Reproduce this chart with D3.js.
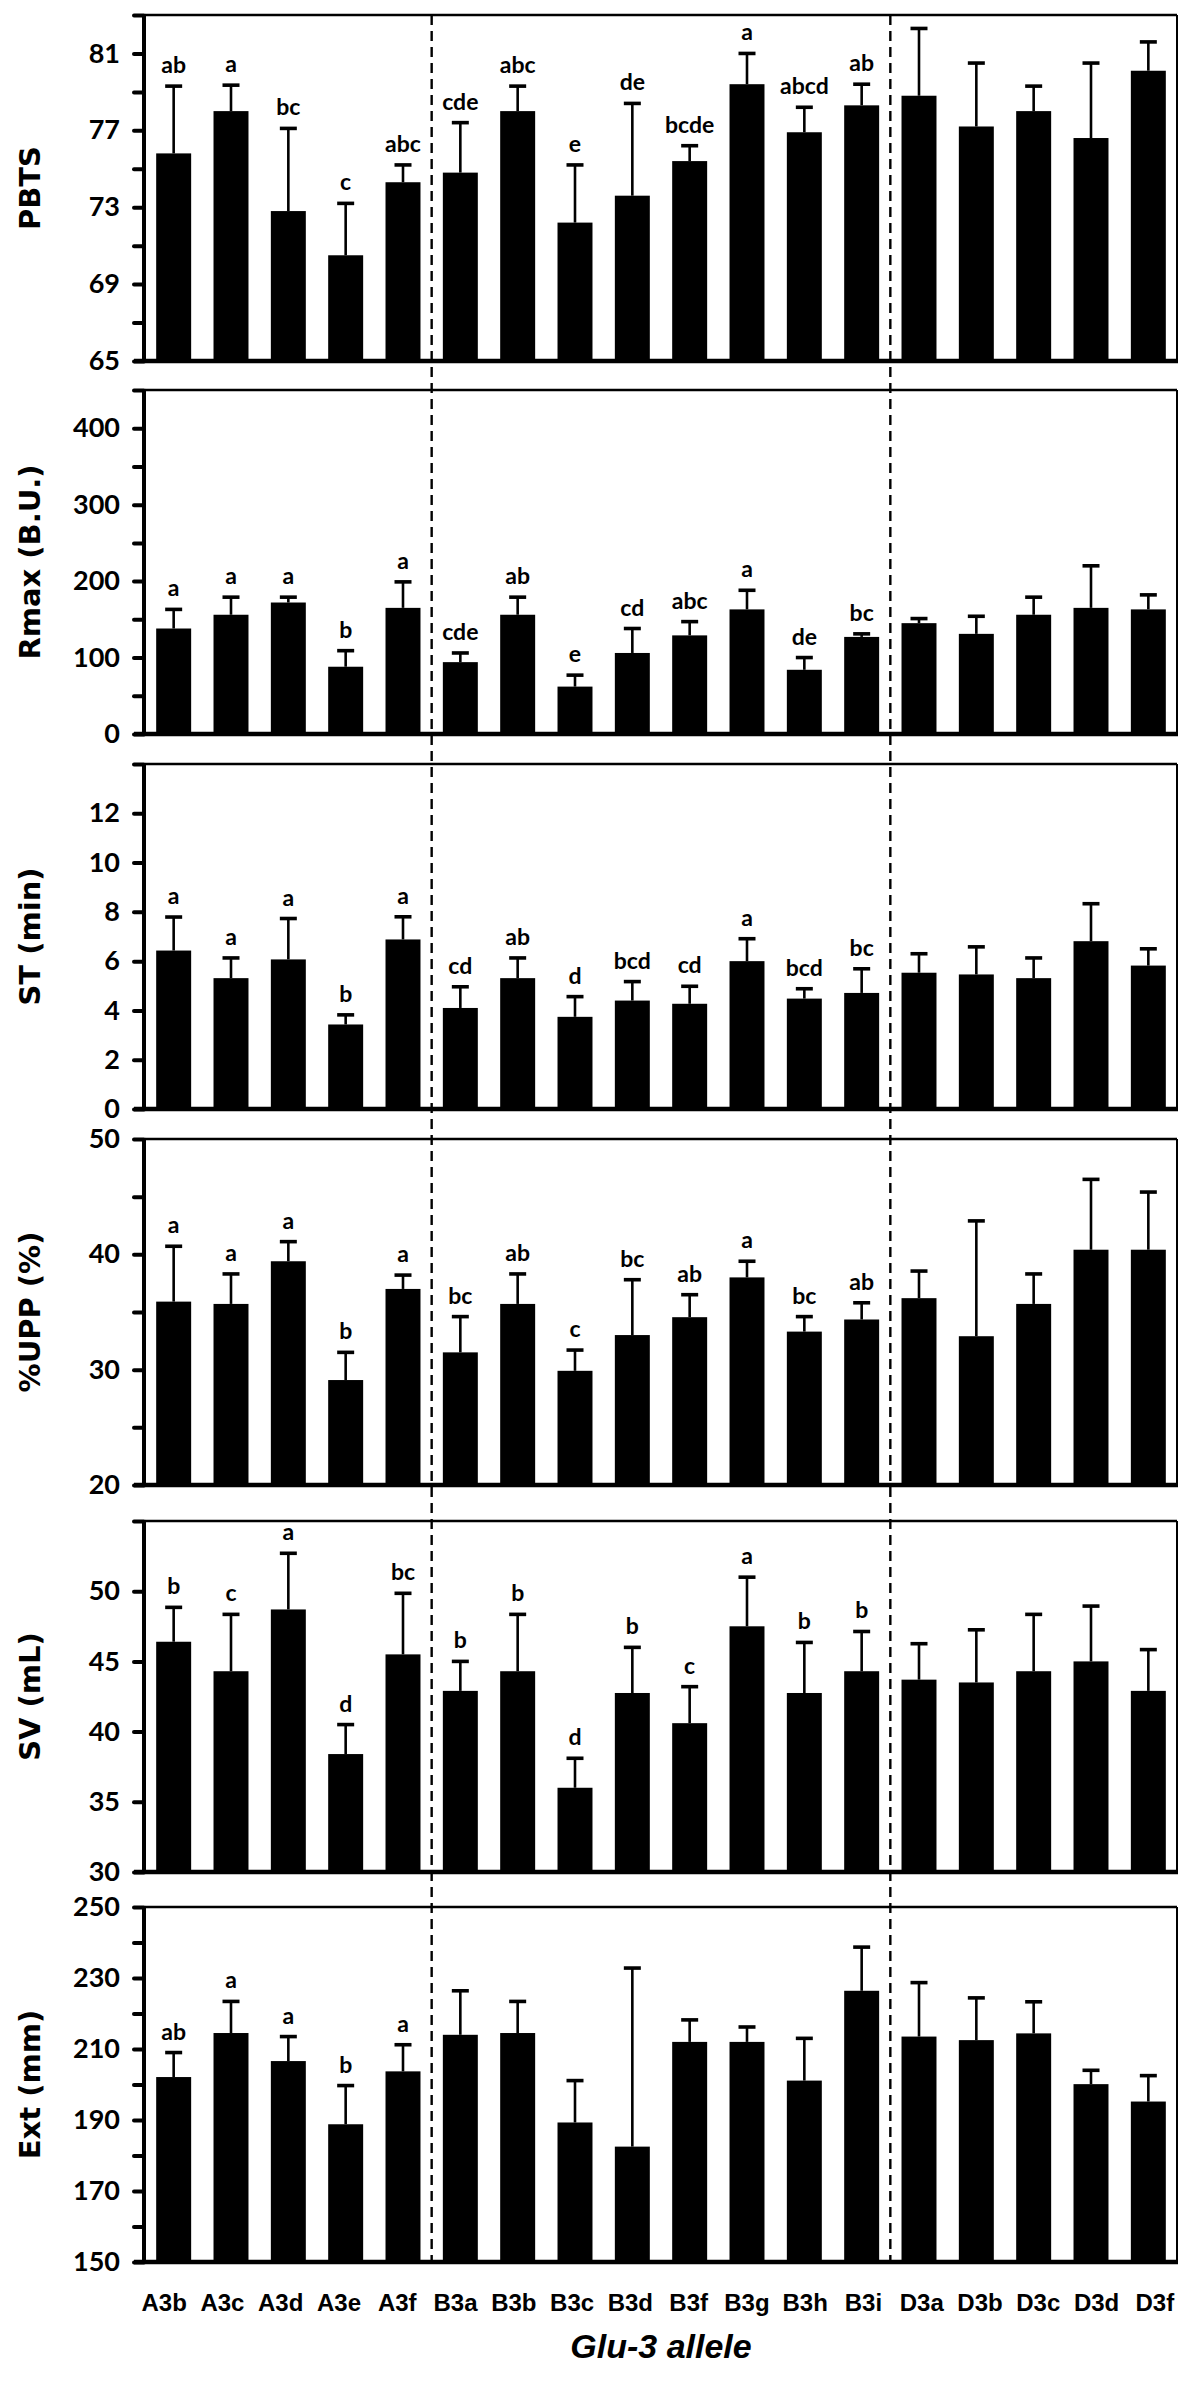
<!DOCTYPE html>
<html><head><meta charset="utf-8">
<script src="https://cdn.jsdelivr.net/npm/d3@7"></script>
<style>body{margin:0;background:#fff}</style>
</head><body><svg id="c" width="1200" height="2382"></svg>
<script>
const categories = ["A3b","A3c","A3d","A3e","A3f","B3a","B3b","B3c","B3d","B3f","B3g","B3h","B3i","D3a","D3b","D3c","D3d","D3f"];

const pbtsMean = [75.8, 78.0, 72.8, 70.5, 74.3, 74.8, 78.0, 72.2, 73.6, 75.4, 79.4, 76.9, 78.3, 78.8, 77.2, 78.0, 76.6, 80.1];
const pbtsSD   = [3.5, 1.35, 4.3, 2.7, 0.9, 2.6, 1.3, 3.0, 4.8, 0.8, 1.6, 1.3, 1.1, 3.5, 3.3, 1.3, 3.9, 1.5];
const pbtsLetters = ["ab","a","bc","c","abc","cde","abc","e","de","bcde","a","abcd","ab","","","","",""];
const pbtsTicks = [65, 69, 73, 77, 81];

const rmaxMean = [138, 156, 172, 88, 165, 94, 156, 62, 106, 129, 163, 84, 127, 145, 131, 156, 165, 163];
const rmaxSD   = [25, 23, 7, 21, 34, 12, 23, 15, 32, 18, 25, 16, 4, 6, 23, 23, 55, 19];
const rmaxLetters = ["a","a","a","b","a","cde","ab","e","cd","abc","a","de","bc","","","","",""];
const rmaxTicks = [0, 100, 200, 300, 400];

const stMean = [6.43, 5.31, 6.07, 3.43, 6.88, 4.10, 5.31, 3.74, 4.40, 4.27, 6.0, 4.48, 4.71, 5.53, 5.46, 5.31, 6.81, 5.82];
const stSD   = [1.36, 0.82, 1.66, 0.39, 0.92, 0.86, 0.82, 0.82, 0.77, 0.71, 0.91, 0.40, 0.98, 0.77, 1.12, 0.82, 1.52, 0.68];
const stLetters = ["a","a","a","b","a","cd","ab","d","bcd","cd","a","bcd","bc","","","","",""];
const stTicks = [0, 2, 4, 6, 8, 10, 12];

const uppMean = [35.9, 35.7, 39.4, 29.1, 37.0, 31.5, 35.7, 29.9, 33.0, 34.55, 38.0, 33.3, 34.35, 36.2, 32.9, 35.7, 40.4, 40.4];
const uppSD   = [4.8, 2.6, 1.7, 2.4, 1.2, 3.1, 2.6, 1.8, 4.8, 1.95, 1.4, 1.3, 1.45, 2.35, 10.0, 2.6, 6.1, 5.0];
const uppLetters = ["a","a","a","b","a","bc","ab","c","bc","ab","a","bc","ab","","","","",""];
const uppTicks = [20, 30, 40, 50];

const svMean = [46.4, 44.3, 48.7, 38.4, 45.5, 42.9, 44.3, 36.0, 42.75, 40.6, 47.5, 42.75, 44.3, 43.7, 43.5, 44.3, 45.0, 42.9];
const svSD   = [2.45, 4.05, 4.0, 2.1, 4.35, 2.1, 4.05, 2.1, 3.25, 2.6, 3.5, 3.6, 2.83, 2.56, 3.75, 4.05, 3.94, 2.94];
const svLetters = ["b","c","a","d","bc","b","b","d","b","c","a","b","b","","","","",""];
const svTicks = [30, 35, 40, 45, 50];

const extMean = [202.1, 214.5, 206.6, 188.8, 203.7, 214.0, 214.5, 189.3, 182.5, 212.0, 212.0, 201.1, 226.4, 213.5, 212.5, 214.4, 200.1, 195.2];
const extSD   = [6.9, 8.9, 6.9, 10.9, 7.5, 12.4, 8.9, 11.8, 50.3, 6.2, 4.2, 11.9, 12.3, 15.2, 11.9, 8.9, 3.9, 7.3];
const extLetters = ["ab","a","a","b","a","","","","","","","","","","","","",""];
const extTicks = [150, 170, 190, 210, 230, 250];

const xTitle = "Glu-3 allele";

const panels = [
  {title:"PBTS", mean:pbtsMean, sd:pbtsSD, letters:pbtsLetters, ticks:pbtsTicks, domain:[65,83], step:2, top:15, bottom:361},
  {title:"Rmax (B.U.)", mean:rmaxMean, sd:rmaxSD, letters:rmaxLetters, ticks:rmaxTicks, domain:[0,450], step:50, top:390, bottom:734},
  {title:"ST (min)", mean:stMean, sd:stSD, letters:stLetters, ticks:stTicks, domain:[0,14], step:2, top:764, bottom:1109},
  {title:"%UPP (%)", mean:uppMean, sd:uppSD, letters:uppLetters, ticks:uppTicks, domain:[20,50], step:5, top:1139, bottom:1485},
  {title:"SV (mL)", mean:svMean, sd:svSD, letters:svLetters, ticks:svTicks, domain:[30,55], step:5, top:1521, bottom:1872},
  {title:"Ext (mm)", mean:extMean, sd:extSD, letters:extLetters, ticks:extTicks, domain:[150,250], step:10, top:1907, bottom:2262}
];

const svg = d3.select("#c");
const L = 145, R = 1177;
const x = d3.scaleBand().domain(categories).range([L, R]).paddingInner(0.39).paddingOuter(0.195);
const bw = x.bandwidth();

panels.forEach(p => {
  const y = d3.scaleLinear().domain(p.domain).range([p.bottom, p.top]);
  const g = svg.append("g");
  const data = categories.map((c, i) => ({c, m: p.mean[i], s: p.sd[i], l: p.letters[i]}));

  g.selectAll("rect.bar").data(data).join("rect")
    .attr("x", d => x(d.c)).attr("width", bw)
    .attr("y", d => y(d.m)).attr("height", d => p.bottom - y(d.m))
    .attr("fill", "#000");

  g.selectAll("line.stem").data(data).join("line")
    .attr("x1", d => x(d.c) + bw/2).attr("x2", d => x(d.c) + bw/2)
    .attr("y1", d => y(d.m)).attr("y2", d => y(d.m + d.s))
    .attr("stroke", "#000").attr("stroke-width", 2.6);
  g.selectAll("line.cap").data(data).join("line")
    .attr("x1", d => x(d.c) + bw/2 - 8.5).attr("x2", d => x(d.c) + bw/2 + 8.5)
    .attr("y1", d => y(d.m + d.s)).attr("y2", d => y(d.m + d.s))
    .attr("stroke", "#000").attr("stroke-width", 3.6);

  g.selectAll("text.let").data(data.filter(d => d.l)).join("text")
    .attr("x", d => x(d.c) + bw/2).attr("y", d => y(d.m + d.s) - 13)
    .attr("text-anchor", "middle")
    .style("font-family", "Lato, 'Open Sans', sans-serif").style("font-weight", "bold").style("font-size", "23px")
    .text(d => d.l);

  const tv = d3.range(p.domain[0], p.domain[1] + p.step/2, p.step);
  const tickAxis = d3.axisLeft(y).tickValues(tv).tickSize(10).tickFormat("");
  const ta = g.append("g").attr("transform", `translate(${L - 1},0)`).call(tickAxis);
  ta.select(".domain").remove();
  ta.selectAll(".tick line").attr("stroke", "#000").attr("stroke-width", 4).attr("stroke-linecap", "round");

  const labAxis = d3.axisLeft(y).tickValues(p.ticks).tickSize(0).tickPadding(25).tickFormat(d3.format("d"));
  const la = g.append("g").attr("transform", `translate(${L},0)`).call(labAxis);
  la.select(".domain").remove();
  la.selectAll("text").attr("fill", "#000")
    .style("font-family", "Lato, 'Open Sans', sans-serif").style("font-weight", "bold").style("font-size", "27px");

  g.append("line").attr("x1", L).attr("x2", R).attr("y1", p.top).attr("y2", p.top).attr("stroke", "#000").attr("stroke-width", 2.5);
  g.append("line").attr("x1", R).attr("x2", R).attr("y1", p.top).attr("y2", p.bottom).attr("stroke", "#000").attr("stroke-width", 2);
  g.append("line").attr("x1", L - 1).attr("x2", L - 1).attr("y1", p.top - 1).attr("y2", p.bottom + 2).attr("stroke", "#000").attr("stroke-width", 4);
  g.append("line").attr("x1", L - 11).attr("x2", R + 1).attr("y1", p.bottom).attr("y2", p.bottom).attr("stroke", "#000").attr("stroke-width", 4.5);

  g.append("text")
    .attr("transform", `translate(40,${(p.top + p.bottom)/2}) rotate(-90)`)
    .attr("text-anchor", "middle")
    .style("font-family", "'DejaVu Sans', Verdana, sans-serif").style("font-weight", "bold").style("font-size", "29px")
    .text(p.title);
});

const seps = [["A3f","B3a"], ["B3i","D3a"]];
svg.selectAll("line.sep").data(seps).join("line")
  .attr("x1", d => (x(d[0]) + bw + x(d[1]))/2).attr("x2", d => (x(d[0]) + bw + x(d[1]))/2)
  .attr("y1", panels[0].top).attr("y2", panels[5].bottom)
  .attr("stroke", "#000").attr("stroke-width", 2.4).attr("stroke-dasharray", "10,6");

const xl = d3.scaleBand().domain(categories).range([135, 1184]);
svg.selectAll("text.cat").data(categories).join("text")
  .attr("x", d => xl(d) + xl.bandwidth()/2).attr("y", 2311)
  .attr("text-anchor", "middle")
  .style("font-family", "'Liberation Sans', Arial, sans-serif").style("font-weight", "bold").style("font-size", "24px")
  .text(d => d);

svg.append("text").attr("x", (L + R)/2).attr("y", 2358).attr("text-anchor", "middle")
  .style("font-family", "'Liberation Sans', Arial, sans-serif").style("font-weight", "bold").style("font-style", "italic").style("font-size", "34px")
  .text(xTitle);
</script></body></html>
